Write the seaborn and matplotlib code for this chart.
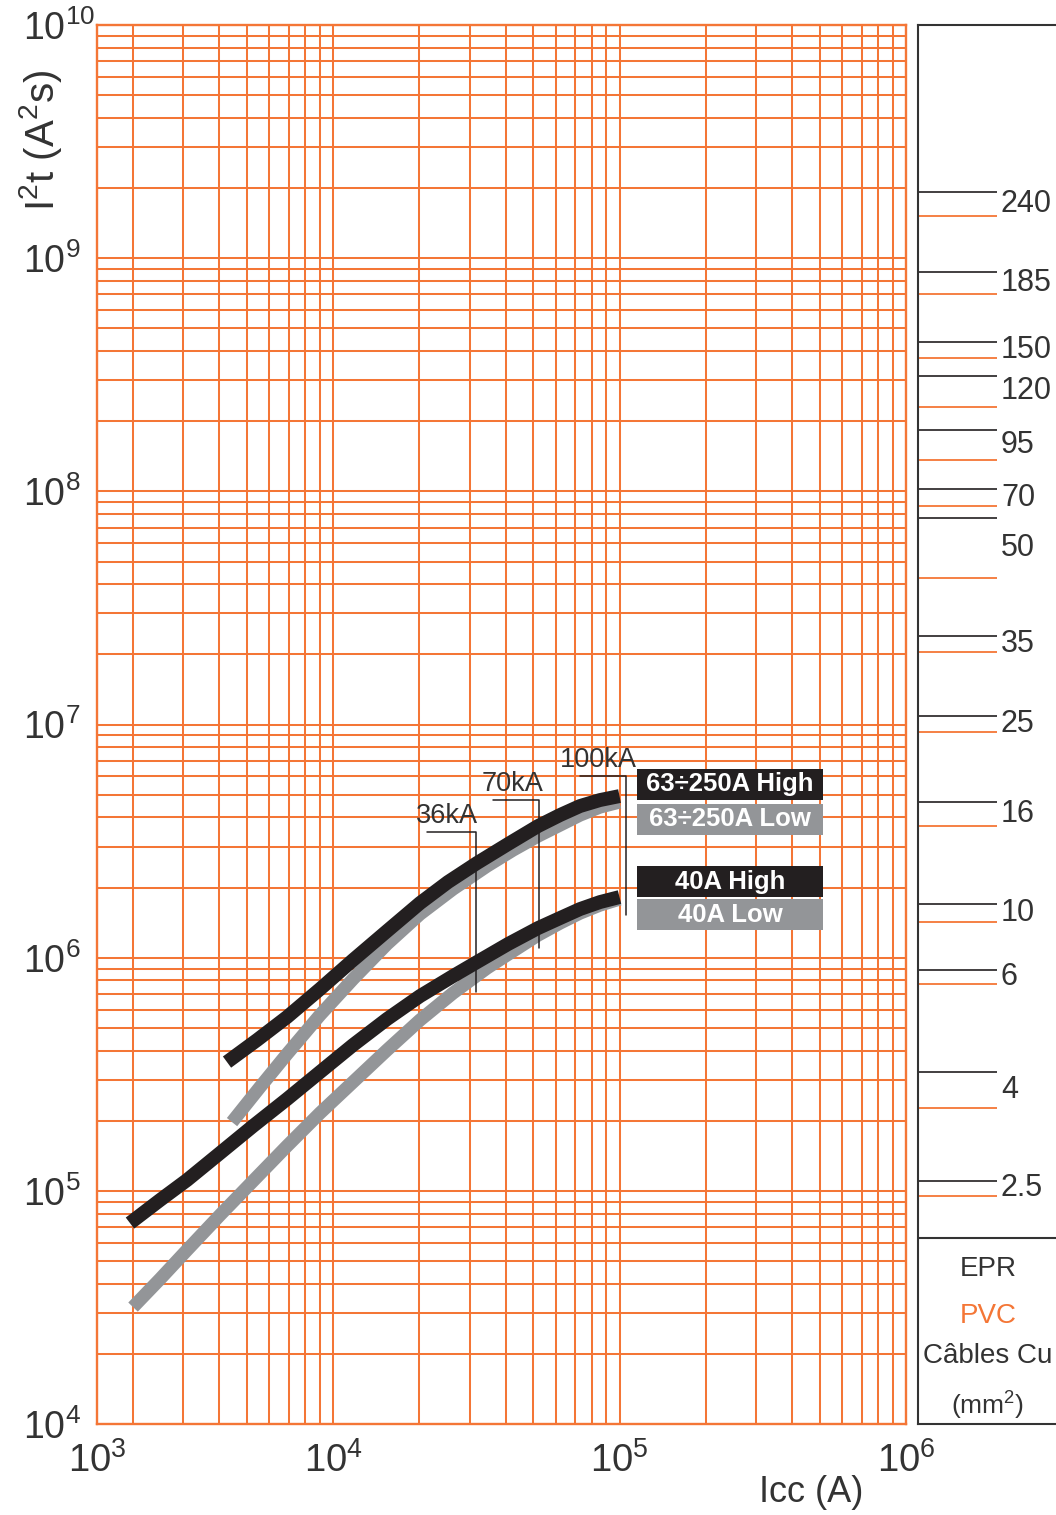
import numpy as np
import pandas as pd
import matplotlib
matplotlib.use("Agg")
import matplotlib.pyplot as plt
from matplotlib.ticker import LogLocator, NullLocator
from matplotlib.patches import Rectangle
import seaborn as sns

# Let-through energy curves: Icc (A) -> I2t (A2s)
hi63_icc = [4265, 5427, 6908, 9004, 11740, 15430, 20120, 25190, 31800, 40800,
            51940, 61960, 72770, 85460, 100000]
hi63_i2t = [3.574e5, 4.442e5, 5.574e5, 7.348e5, 9.785e5, 1.303e6, 1.718e6, 2.114e6,
            2.550e6, 3.076e6, 3.674e6, 4.096e6, 4.477e6, 4.750e6, 4.940e6]
lo63_icc = [4440, 5560, 6908, 9004, 11740, 15430, 20120, 26230, 34460, 42480,
            51940, 61960, 72770, 85460, 100000]
lo63_i2t = [1.976e5, 2.792e5, 3.868e5, 5.685e5, 8.111e5, 1.146e6, 1.541e6, 1.973e6,
            2.475e6, 2.899e6, 3.329e6, 3.710e6, 4.096e6, 4.433e6, 4.658e6]
hi40_icc = [1955, 2489, 3092, 4031, 5255, 6908, 9004, 11740, 15430, 20120,
            26230, 31800, 40800, 51940, 61960, 72770, 85460, 100000]
hi40_i2t = [7.292e4, 9.150e4, 1.115e5, 1.455e5, 1.900e5, 2.480e5, 3.238e5, 4.227e5,
            5.464e5, 6.859e5, 8.355e5, 9.594e5, 1.146e6, 1.342e6, 1.481e6, 1.619e6,
            1.735e6, 1.823e6]
lo40_icc = [2004, 2489, 3092, 4031, 5255, 6908, 9004, 11740, 15430, 20120,
            26230, 34460, 42480, 51940, 61960, 72770, 85460, 100000]
lo40_i2t = [3.181e4, 4.195e4, 5.585e4, 7.890e4, 1.104e5, 1.560e5, 2.160e5, 2.934e5,
            4.023e5, 5.411e5, 7.066e5, 9.043e5, 1.069e6, 1.252e6, 1.410e6, 1.556e6,
            1.684e6, 1.787e6]

curve_names = ["63÷250A High", "63÷250A Low", "40A High", "40A Low"]

# breaking capacity brackets
kA_names = ["36kA", "70kA", "100kA"]
kA_icc = [3.15e4, 5.24e4, 1.05e5]
kA_arm = [2.13e4, 3.63e4, 7.28e4]
kA_top = [3.46e6, 4.75e6, 6.02e6]
kA_bottom = [7.15e5, 1.10e6, 1.53e6]

# cable withstand, Cu, mm2
sections = ["240", "185", "150", "120", "95", "70", "50", "35", "25", "16", "10", "6", "4", "2.5"]
epr_i2t = [1.93e9, 8.71e8, 4.39e8, 3.13e8, 1.84e8, 1.02e8, 7.69e7, 2.41e7, 1.085e7,
           4.66e6, 1.70e6, 8.85e5, 3.25e5, 1.11e5]
pvc_i2t = [1.52e9, 7.05e8, 3.75e8, 2.30e8, 1.37e8, 8.68e7, 4.25e7, 2.05e7, 9.30e6,
           3.66e6, 1.43e6, 7.76e5, 2.28e5, 9.52e4]

xtick_vals = [1500, 1e4, 1e5, 1e6]
xtick_labels = [r"$10^3$", r"$10^4$", r"$10^5$", r"$10^6$"]
ytick_vals = [1e4, 1e5, 1e6, 1e7, 1e8, 1e9, 1e10]
ytick_labels = [r"$10^{4}$", r"$10^{5}$", r"$10^{6}$", r"$10^{7}$", r"$10^{8}$", r"$10^{9}$", r"$10^{10}$"]

ORANGE = "#F47636"
DARK = "#333333"
BLACK = "#231F20"
GREY = "#939598"

curves = pd.concat([
    pd.DataFrame({"icc": hi63_icc, "i2t": hi63_i2t, "curve": curve_names[0]}),
    pd.DataFrame({"icc": lo63_icc, "i2t": lo63_i2t, "curve": curve_names[1]}),
    pd.DataFrame({"icc": hi40_icc, "i2t": hi40_i2t, "curve": curve_names[2]}),
    pd.DataFrame({"icc": lo40_icc, "i2t": lo40_i2t, "curve": curve_names[3]}),
])
curve_colors = {curve_names[0]: BLACK, curve_names[1]: GREY,
                curve_names[2]: BLACK, curve_names[3]: GREY}

sns.set_style("white")
plt.rcParams["font.family"] = ["Liberation Sans", "DejaVu Sans"]
plt.rcParams["mathtext.fontset"] = "custom"
plt.rcParams["mathtext.rm"] = "Liberation Sans"
plt.rcParams["mathtext.it"] = "Liberation Sans:italic"
plt.rcParams["mathtext.bf"] = "Liberation Sans:bold"

fig = plt.figure(figsize=(10.56, 15.15), dpi=100)
ax_bottom = 1 - 1424.3 / 1515
ax_height = 1399.3 / 1515
ax = fig.add_axes([97 / 1056, ax_bottom, 809 / 1056, ax_height])

ax.set_xscale("log")
ax.set_yscale("log")
ax.set_xlim(1500, 1e6)
ax.set_ylim(1e4, 1e10)

ax.set_xticks(xtick_vals, labels=xtick_labels)
ax.set_yticks(ytick_vals, labels=ytick_labels, ha="left")
ax.xaxis.set_minor_locator(LogLocator(base=10, subs=np.arange(2, 10), numticks=50))
ax.yaxis.set_minor_locator(LogLocator(base=10, subs=np.arange(2, 10), numticks=50))
ax.tick_params(which="both", length=0)
ax.tick_params(axis="x", pad=13, labelsize=27.5, colors=DARK)
ax.tick_params(axis="y", pad=53, labelsize=27, colors=DARK)

ax.set_axisbelow(True)
ax.grid(True, which="both", color=ORANGE, lw=1.45)
for sp in ax.spines.values():
    sp.set_color(ORANGE)
    sp.set_linewidth(1.7)

# grey curves first so the black ones sit on top
for name in [curve_names[1], curve_names[3], curve_names[0], curve_names[2]]:
    sub = curves[curves["curve"] == name]
    sns.lineplot(data=sub, x="icc", y="i2t", color=curve_colors[name],
                 linewidth=10 if curve_colors[name] == BLACK else 9.5,
                 estimator=None, sort=False, solid_capstyle="butt",
                 solid_joinstyle="round", ax=ax, zorder=3)
ax.set_xlabel("")
ax.set_ylabel("")

# breaking capacity brackets
for name, x, arm, top, bot in zip(kA_names, kA_icc, kA_arm, kA_top, kA_bottom):
    ax.plot([arm, x, x], [top, top, bot], color=BLACK, lw=1.1, zorder=4)
    ax.annotate(name, xy=(np.sqrt(arm * x), top), xytext=(-3, 2),
                textcoords="offset points", ha="center", va="bottom",
                fontsize=19.5, color=DARK, zorder=5)

# legend boxes
box_x0 = (637 - 97) / 809
box_w = (823 - 637) / 809
box_tops = [769, 804, 866, 899]
for name, top in zip(curve_names, box_tops):
    b = (1424.3 - (top + 31)) / 1399.3
    h = 31 / 1399.3
    ax.add_patch(Rectangle((box_x0, b), box_w, h, transform=ax.transAxes,
                           facecolor=curve_colors[name], edgecolor="none",
                           zorder=5, clip_on=False))
    ax.text(box_x0 + box_w / 2, b + h / 2, name, transform=ax.transAxes,
            ha="center", va="center", fontsize=18.5, fontweight="bold",
            color="white", zorder=6)

# cable panel on the right
ax2 = fig.add_axes([918 / 1056, ax_bottom, 182 / 1056, ax_height])
ax2.set_yscale("log")
ax2.set_ylim(1e4, 1e10)
ax2.set_xlim(0, 1)
ax2.set_xticks([])
ax2.set_yticks([])
ax2.yaxis.set_minor_locator(NullLocator())
ax2.grid(False)
for side in ["left", "top", "bottom"]:
    ax2.spines[side].set_color(DARK)
    ax2.spines[side].set_linewidth(1.5)
ax2.spines["right"].set_visible(False)

tick_end = (997 - 918) / 182
ax2.hlines(epr_i2t, 0, tick_end, color=BLACK, lw=1.2)
ax2.hlines(pvc_i2t, 0, tick_end, color=ORANGE, lw=1.3)
for s, e, p in zip(sections, epr_i2t, pvc_i2t):
    ax2.text((1001 - 918) / 182, np.sqrt(e * p), s, ha="left", va="center",
             fontsize=22, color=DARK)

ax2.plot([0, 1], [0.133, 0.133], transform=ax2.transAxes, color=DARK, lw=1.5)
cx = (988 - 918) / 182
ax2.text(cx, 0.111, "EPR", transform=ax2.transAxes, ha="center", va="center",
         fontsize=20, color=DARK)
ax2.text(cx, 0.0776, "PVC", transform=ax2.transAxes, ha="center", va="center",
         fontsize=20, color=ORANGE)
ax2.text(cx, 0.0488, "Câbles Cu", transform=ax2.transAxes, ha="center", va="center",
         fontsize=20, color=DARK)
ax2.text(cx, 0.0135, r"(mm$^2$)", transform=ax2.transAxes, ha="center", va="center",
         fontsize=19, color=DARK)

fig.text(41 / 1056, 1 - 140 / 1515, r"I$^2$t (A$^2$s)", rotation=90,
         ha="center", va="center", fontsize=29, color=DARK)
fig.text(811 / 1056, 1 - 1492 / 1515, "Icc (A)", ha="center", va="center",
         fontsize=26, color=DARK)

fig.savefig("out.png", dpi=100)
